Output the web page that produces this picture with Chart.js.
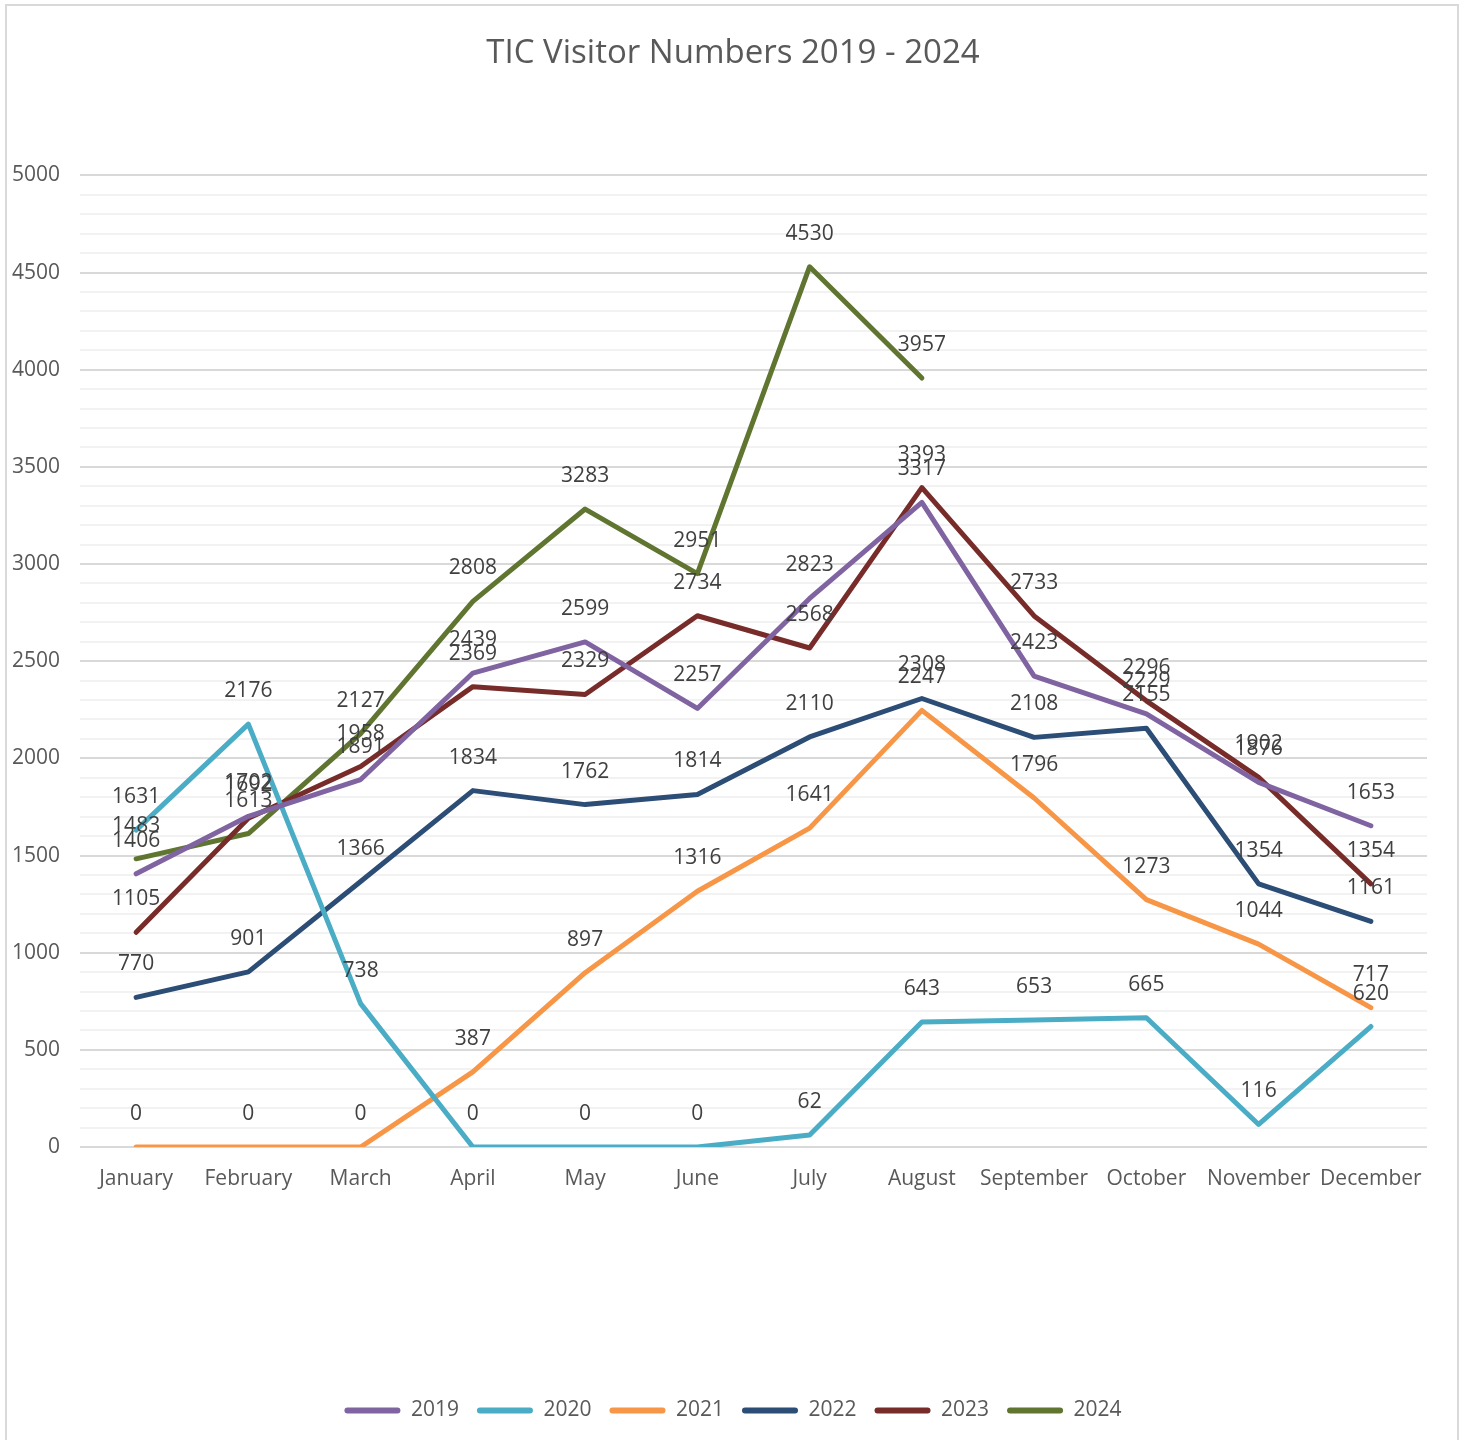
<!DOCTYPE html>
<html>
<head>
  <meta charset="utf-8" />
  <script src="https://cdn.jsdelivr.net/npm/chart.js"></script>
  <style>
    html, body {
      margin: 0;
      padding: 0;
      background: #fff;
      overflow: hidden;
    }

    .frame {
      position: absolute;
      left: 5px;
      top: 4px;
      width: 1454px;
      height: 1450px;
      border: 2px solid #d9d9d9;
      box-sizing: border-box;
    }

    .wrap {
      position: absolute;
      left: 7px;
      top: 6px;
      width: 1452px;
      height: 1444px;
    }
  </style>
</head>

<body>
  <div class="frame"></div>
  <div class="wrap"><canvas id="visitorChart"></canvas></div>

  <script>
    const months = ["January", "February", "March", "April", "May", "June",
      "July", "August", "September", "October", "November", "December"];

    const years = ["2019", "2020", "2021", "2022", "2023", "2024"];

    const v2019 = [1406, 1702, 1891, 2439, 2599, 2257, 2823, 3317, 2423, 2229, 1876, 1653];
    const v2020 = [1631, 2176, 738, 0, 0, 0, 62, 643, 653, 665, 116, 620];
    const v2021 = [0, 0, 0, 387, 897, 1316, 1641, 2247, 1796, 1273, 1044, 717];
    const v2022 = [770, 901, 1366, 1834, 1762, 1814, 2110, 2308, 2108, 2155, 1354, 1161];
    const v2023 = [1105, 1692, 1958, 2369, 2329, 2734, 2568, 3393, 2733, 2296, 1902, 1354];
    const v2024 = [1483, 1613, 2127, 2808, 3283, 2951, 4530, 3957];

    const colors = ["#8064a2", "#4bacc6", "#f79646", "#2c4d75", "#772c2a", "#5f7530"];

    const FONT = "'Open Sans', 'Noto Sans', sans-serif";

    // draws the value of every point a bit above it
    const pointLabels = {
      id: "pointLabels",
      afterDatasetsDraw(chart) {
        const ctx = chart.ctx;
        ctx.save();
        ctx.font = "21px " + FONT;
        ctx.fillStyle = "#404040";
        ctx.textAlign = "center";
        ctx.textBaseline = "middle";
        chart.data.datasets.forEach((ds, i) => {
          const meta = chart.getDatasetMeta(i);
          meta.data.forEach((pt, j) => {
            const v = ds.data[j];
            if (v === null || v === undefined) return;
            ctx.fillText(String(v), pt.x, pt.y - 33);
          });
        });
        ctx.restore();
      }
    };

    const allSeries = [v2019, v2020, v2021, v2022, v2023, v2024];

    new Chart(document.getElementById("visitorChart"), {
      type: "line",
      data: {
        labels: months,
        datasets: allSeries.map((vals, i) => ({
          label: years[i],
          data: vals,
          borderColor: colors[i],
          backgroundColor: colors[i],
          borderWidth: 5,
          pointRadius: 0,
          tension: 0,
          borderCapStyle: "round",
          borderJoinStyle: "round",
          fill: false
        }))
      },
      options: {
        responsive: true,
        maintainAspectRatio: false,
        animation: false,
        layout: {
          padding: { left: 0, right: 0, top: 0, bottom: 19 }
        },
        scales: {
          x: {
            offset: true,
            grid: { display: false },
            border: { display: false },
            ticks: {
              color: "#595959",
              font: { family: FONT, size: 21 },
              padding: 11,
              maxRotation: 0,
              autoSkip: false
            },
            afterFit(scale) {
              scale.height = 235;
            }
          },
          y: {
            min: 0,
            max: 5000,
            border: { display: false },
            grid: {
              drawTicks: false,
              lineWidth: 2,
              color: (c) => (c.tick && c.tick.value % 500 === 0) ? "#d9d9d9" : "#f2f2f2"
            },
            ticks: {
              stepSize: 100,
              maxTicksLimit: 60,
              autoSkip: false,
              padding: 20,
              color: "#595959",
              font: { family: FONT, size: 21 },
              callback: (v) => (v % 500 === 0 ? String(v) : "")
            },
            afterFit(scale) {
              scale.width = 73;
            }
          },
          // empty right-hand space so title and legend stay centred on the page
          yRight: {
            position: "right",
            grid: { display: false },
            border: { display: false },
            ticks: { display: false },
            afterFit(scale) {
              scale.width = 32;
            }
          }
        },
        plugins: {
          title: {
            display: true,
            text: "TIC Visitor Numbers 2019 - 2024",
            color: "#595959",
            font: { family: FONT, size: 33, weight: "normal" },
            padding: { top: 28, bottom: 101.8 }
          },
          legend: {
            position: "bottom",
            labels: {
              color: "#595959",
              font: { family: FONT, size: 21 },
              boxWidth: 56,
              boxHeight: 6,
              padding: 18,
              generateLabels(chart) {
                const items = Chart.defaults.plugins.legend.labels.generateLabels(chart);
                items.forEach(it => {
                  it.lineWidth = 0;
                  it.borderRadius = 3;
                });
                return items;
              }
            }
          },
          tooltip: { enabled: false }
        }
      },
      plugins: [pointLabels]
    });
  </script>
</body>

</html>
